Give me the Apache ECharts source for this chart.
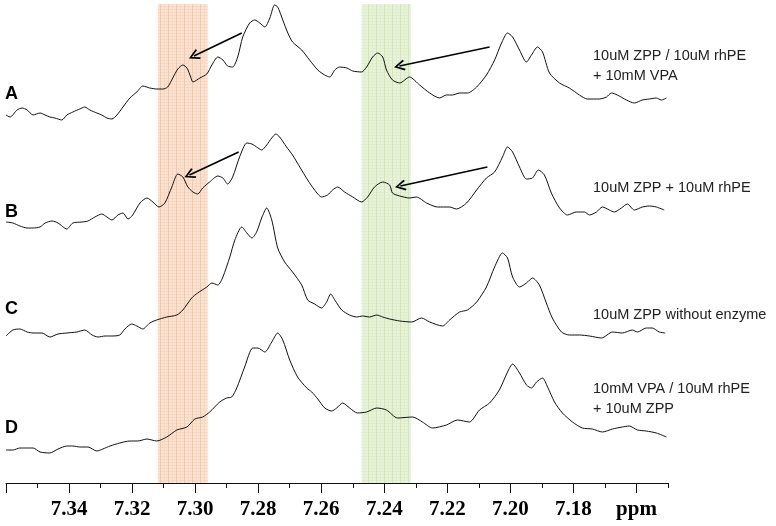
<!DOCTYPE html>
<html><head><meta charset="utf-8">
<script src="https://cdn.jsdelivr.net/npm/echarts@6/dist/echarts.min.js"></script>
<style>html,body{margin:0;padding:0;background:#fff}#c{width:776px;height:526px}</style>
</head><body><div id="c"></div>
<script>
// chemical shift (ppm) and relative intensity
const traceA = [[7.3600,5],[7.3587,3],[7.3565,10],[7.3549,12],[7.3533,10],[7.3514,5],[7.3492,7],[7.3476,5],[7.3461,3],[7.3445,2],[7.3423,0],[7.3407,5],[7.3388,8],[7.3366,11],[7.3350,13],[7.3334,10],[7.3312,7],[7.3296,5],[7.3280,2],[7.3264,1],[7.3248,5],[7.3229,13],[7.3207,22],[7.3185,28],[7.3166,34],[7.3144,32],[7.3122,31],[7.3102,31],[7.3087,33],[7.3071,42],[7.3055,51],[7.3039,55],[7.3026,52],[7.3014,43],[7.3007,38],[7.2985,42],[7.2963,46],[7.2947,55],[7.2928,63],[7.2912,60],[7.2897,54],[7.2881,53],[7.2865,63],[7.2849,83],[7.2827,97],[7.2811,100],[7.2795,97],[7.2779,93],[7.2763,102],[7.2748,115],[7.2738,113],[7.2722,100],[7.2706,87],[7.2691,78],[7.2662,70],[7.2637,60],[7.2611,50],[7.2589,45],[7.2573,43],[7.2557,50],[7.2542,53],[7.2519,52],[7.2500,49],[7.2472,48],[7.2456,53],[7.2437,63],[7.2421,67],[7.2405,63],[7.2393,50],[7.2374,40],[7.2351,37],[7.2320,43],[7.2288,35],[7.2256,27],[7.2225,22],[7.2203,25],[7.2184,25],[7.2161,27],[7.2136,27],[7.2107,33],[7.2076,45],[7.2050,60],[7.2028,77],[7.2009,87],[7.1993,83],[7.1971,70],[7.1949,58],[7.1933,65],[7.1914,73],[7.1898,68],[7.1876,47],[7.1844,37],[7.1813,32],[7.1781,25],[7.1756,21],[7.1718,21],[7.1695,23],[7.1680,27],[7.1661,25],[7.1632,20],[7.1607,17],[7.1581,20],[7.1559,21],[7.1537,22],[7.1521,20],[7.1505,22]];
const traceB = [[7.3600,8],[7.3578,7],[7.3556,4],[7.3533,2],[7.3514,2],[7.3492,3],[7.3476,7],[7.3454,9],[7.3435,7],[7.3407,1],[7.3388,7],[7.3359,8],[7.3340,9],[7.3318,13],[7.3296,16],[7.3280,13],[7.3264,10],[7.3245,15],[7.3229,17],[7.3213,11],[7.3198,15],[7.3175,27],[7.3153,32],[7.3134,28],[7.3115,23],[7.3096,27],[7.3074,43],[7.3055,56],[7.3039,53],[7.3023,43],[7.3007,38],[7.2992,36],[7.2976,42],[7.2954,48],[7.2928,54],[7.2912,52],[7.2897,46],[7.2881,53],[7.2859,73],[7.2836,87],[7.2820,86],[7.2805,83],[7.2789,80],[7.2773,85],[7.2757,92],[7.2744,96],[7.2732,93],[7.2710,83],[7.2691,75],[7.2668,63],[7.2643,50],[7.2621,40],[7.2599,33],[7.2580,35],[7.2564,40],[7.2548,43],[7.2526,38],[7.2500,33],[7.2472,28],[7.2453,33],[7.2431,43],[7.2405,48],[7.2383,45],[7.2374,37],[7.2351,34],[7.2320,32],[7.2298,33],[7.2266,27],[7.2231,23],[7.2193,23],[7.2171,21],[7.2139,27],[7.2107,40],[7.2076,52],[7.2050,58],[7.2025,73],[7.2009,83],[7.1993,78],[7.1971,63],[7.1949,51],[7.1930,52],[7.1911,60],[7.1892,55],[7.1870,37],[7.1844,22],[7.1819,15],[7.1791,18],[7.1765,18],[7.1749,15],[7.1727,18],[7.1708,23],[7.1686,20],[7.1670,18],[7.1648,22],[7.1629,26],[7.1607,20],[7.1581,23],[7.1559,24],[7.1537,23],[7.1512,20]];
const traceC = [[7.3600,4],[7.3578,10],[7.3556,11],[7.3533,8],[7.3514,7],[7.3486,7],[7.3461,3],[7.3435,6],[7.3407,7],[7.3375,8],[7.3350,10],[7.3327,5],[7.3308,3],[7.3286,4],[7.3264,4],[7.3239,5],[7.3223,11],[7.3201,16],[7.3185,14],[7.3166,11],[7.3144,17],[7.3122,20],[7.3090,23],[7.3058,25],[7.3039,30],[7.3011,42],[7.2992,47],[7.2963,53],[7.2947,57],[7.2928,55],[7.2912,63],[7.2890,83],[7.2874,100],[7.2852,113],[7.2836,107],[7.2820,102],[7.2805,108],[7.2789,122],[7.2773,132],[7.2757,120],[7.2738,92],[7.2716,78],[7.2691,68],[7.2662,55],[7.2643,40],[7.2621,36],[7.2599,32],[7.2583,38],[7.2570,46],[7.2557,40],[7.2535,30],[7.2510,25],[7.2488,23],[7.2469,24],[7.2447,23],[7.2424,25],[7.2405,23],[7.2383,21],[7.2351,19],[7.2313,18],[7.2282,22],[7.2256,18],[7.2215,14],[7.2193,20],[7.2161,28],[7.2136,30],[7.2107,38],[7.2076,53],[7.2050,73],[7.2025,87],[7.2009,82],[7.1993,63],[7.1971,53],[7.1949,57],[7.1930,62],[7.1908,55],[7.1886,37],[7.1867,22],[7.1838,8],[7.1813,5],[7.1781,5],[7.1749,4],[7.1711,2],[7.1676,8],[7.1645,7],[7.1613,10],[7.1597,8],[7.1569,12],[7.1550,12],[7.1528,8],[7.1509,7]];
const traceD = [[7.3600,5],[7.3578,5],[7.3556,7],[7.3533,7],[7.3514,7],[7.3492,3],[7.3461,2],[7.3435,6],[7.3407,9],[7.3388,9],[7.3366,8],[7.3340,8],[7.3312,4],[7.3293,6],[7.3270,9],[7.3239,12],[7.3207,14],[7.3182,14],[7.3153,16],[7.3122,14],[7.3090,18],[7.3058,25],[7.3026,28],[7.3001,36],[7.2976,38],[7.2954,43],[7.2922,53],[7.2900,57],[7.2884,58],[7.2868,67],[7.2843,88],[7.2817,107],[7.2801,107],[7.2779,103],[7.2757,113],[7.2738,122],[7.2722,115],[7.2700,95],[7.2675,78],[7.2646,67],[7.2630,63],[7.2611,56],[7.2589,47],[7.2567,44],[7.2551,47],[7.2532,52],[7.2510,47],[7.2485,42],[7.2456,43],[7.2424,47],[7.2393,45],[7.2358,37],[7.2310,38],[7.2279,33],[7.2247,27],[7.2203,30],[7.2168,35],[7.2130,33],[7.2098,45],[7.2066,52],[7.2035,65],[7.2009,83],[7.1993,91],[7.1971,82],[7.1949,70],[7.1933,67],[7.1917,73],[7.1898,77],[7.1882,68],[7.1860,53],[7.1835,42],[7.1803,33],[7.1772,27],[7.1740,26],[7.1708,23],[7.1676,26],[7.1645,28],[7.1623,29],[7.1597,25],[7.1569,24],[7.1537,22],[7.1505,18]];

const sampleLetters = ['A', 'B', 'C', 'D'];
const sampleNotes = ['10uM ZPP / 10uM rhPE\n+ 10mM VPA', '10uM ZPP + 10uM rhPE', '10uM ZPP without enzyme', '10mM VPA / 10uM rhPE\n+ 10uM ZPP'];
const majorTicks = [7.36, 7.34, 7.32, 7.30, 7.28, 7.26, 7.24, 7.22, 7.20, 7.18, 7.16];
const tickLabels = [7.34, 7.32, 7.30, 7.28, 7.26, 7.24, 7.22, 7.20, 7.18, 7.16];
const unitLabel = 'ppm';
const orangeBand = [7.3118, 7.2960];
const greenBand = [7.2472, 7.2316];

// layout (stacking offsets of the traces, in y-axis units)
const offsets = [363, 253, 143, 28];
const letterY = [94, 212, 309, 428];
const noteTop = [46, 178, 305, 379];
// arrows: [fromPpm, fromY, toPpm, toY] in axis units
const arrows = [
  [7.2852, 450, 7.3004, 427], [7.2066, 436, 7.2352, 417],
  [7.2862, 331, 7.3018, 308], [7.2073, 316, 7.2349, 297]
];

function makePattern(base, dark, light) {
  const c = document.createElement('canvas');
  c.width = 8; c.height = 3;
  const g = c.getContext('2d');
  g.fillStyle = base; g.fillRect(0, 0, 8, 3);
  g.fillStyle = light; g.fillRect(0, 0, 8, 1); g.fillRect(4, 0, 1, 3);
  g.fillStyle = dark; g.fillRect(0, 0, 1, 3);
  return c;
}

const chart = echarts.init(document.getElementById('c'), null, {renderer: 'canvas'});
const traces = [traceA, traceB, traceC, traceD];
const chevron = 'path://M5,0 L10,9 L8.6,10 L5,3 L1.4,10 L0,9 Z';

const series = traces.map((t, i) => ({
  type: 'line',
  data: t.map(p => [p[0], p[1] + offsets[i]]),
  showSymbol: false,
  smooth: 0.25,
  lineStyle: {color: '#111', width: 1},
  silent: true,
  z: 3,
  markLine: (i < 2) ? {
    silent: true,
    symbol: ['none', chevron],
    symbolSize: [11, 11],
    label: {show: false},
    lineStyle: {color: '#000', width: 1.6, type: 'solid'},
    data: arrows.slice(i * 2, i * 2 + 2).map(a => [{coord: [a[0], a[1]]}, {coord: [a[2], a[3]]}])
  } : undefined
}));

series.push({
  type: 'line', data: [], silent: true,
  markArea: {
    silent: true,
    itemStyle: {opacity: 1},
    data: [
      [{xAxis: orangeBand[0], yAxis: 0, itemStyle: {color: {image: makePattern('#fbe2d1', '#f3c9ad', '#f8d8c3'), repeat: 'repeat'}}}, {xAxis: orangeBand[1], yAxis: 479}],
      [{xAxis: greenBand[0], yAxis: 0, itemStyle: {color: {image: makePattern('#e9f3dc', '#d3e6b6', '#e0eecb'), repeat: 'repeat'}}}, {xAxis: greenBand[1], yAxis: 479}]
    ]
  }
});

const serif = '"Liberation Serif", "Times New Roman", serif';
const sans = '"Liberation Sans", Arial, sans-serif';

const graphic = [];
sampleLetters.forEach((L, i) => {
  graphic.push({type: 'text', x: 5, y: letterY[i], silent: true,
    style: {text: L, fontSize: 18, fontWeight: 'bold', fontFamily: sans, fill: '#000', verticalAlign: 'middle'}});
  graphic.push({type: 'text', x: 593, y: noteTop[i], silent: true,
    style: {text: sampleNotes[i], fontSize: 14.5, fontFamily: sans, fill: '#222', lineHeight: 20, verticalAlign: 'top'}});
});

chart.setOption({
  animation: false,
  backgroundColor: '#fff',
  grid: {left: 6, right: 108, top: 0, bottom: 43},
  xAxis: [{
    type: 'value', min: 7.15, max: 7.36, interval: 0.01, inverse: true,
    axisLine: {show: true, lineStyle: {color: '#111', width: 1}},
    axisTick: {show: true, length: 5, lineStyle: {color: '#111'}},
    axisLabel: {show: false}, splitLine: {show: false}
  }, {
    type: 'value', min: 7.15, max: 7.36, inverse: true, position: 'bottom',
    axisLine: {show: false},
    axisTick: {show: true, length: 10, customValues: majorTicks, lineStyle: {color: '#111'}},
    axisLabel: {show: true, customValues: tickLabels, margin: 16, fontSize: 21, fontWeight: 'bold', fontFamily: serif, color: '#000',
      formatter: v => Math.abs(v - 7.16) < 1e-6 ? unitLabel : v.toFixed(2)},
    splitLine: {show: false}
  }],
  yAxis: {type: 'value', min: 0, max: 483, show: false},
  series: series,
  graphic: graphic
});
</script></body></html>
